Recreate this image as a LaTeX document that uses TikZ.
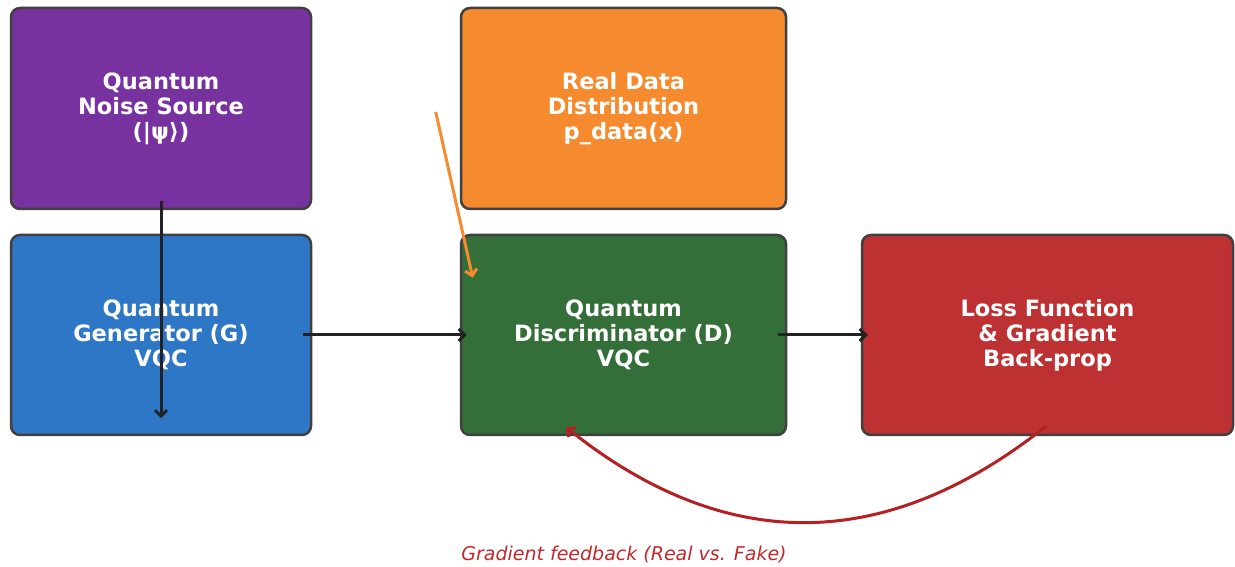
\documentclass[tikz,border=0pt]{standalone}
\usepackage{fontspec}
\setmainfont{DejaVu Sans}
\usetikzlibrary{arrows.meta,calc}
\definecolor{cpurple}{HTML}{7832A0}
\definecolor{corange}{HTML}{F58B2E}
\definecolor{cblue}{HTML}{2E76C6}
\definecolor{cgreen}{HTML}{346E38}
\definecolor{cred}{HTML}{BE3133}
\definecolor{cborder}{HTML}{404040}
\definecolor{carrow}{HTML}{222222}
\definecolor{cfeed}{HTML}{B52025}
\definecolor{clabel}{HTML}{C0282C}
\tikzset{
  box/.style={draw=cborder, line width=2.5pt, rounded corners=9pt, text=white,
    font=\fontsize{22.5}{25}\selectfont\bfseries, align=center, inner sep=0pt},
  flow/.style={line width=3pt, draw=carrow, -{Straight Barb[length=6pt,width=12pt,line width=3pt]}},
}
\begin{document}
\begin{tikzpicture}[x=1pt,y=1pt]
\useasboundingbox (0,0) rectangle (1235,567);
\node[box, fill=cpurple, minimum width=300pt, minimum height=201pt] (noise) at (161,458.5) {Quantum\\Noise Source\\(|ψ⟩)};
\node[box, fill=corange, minimum width=325pt, minimum height=201pt] (real) at (623.5,458.5) {Real Data\\Distribution\\p\_data(x)};
\node[box, fill=cblue, minimum width=300pt, minimum height=200pt] (gen) at (161,232) {Quantum\\Generator (G)\\VQC};
\node[box, fill=cgreen, minimum width=325pt, minimum height=200pt] (disc) at (623.5,232) {Quantum\\Discriminator (D)\\VQC};
\node[box, fill=cred, minimum width=371pt, minimum height=200pt] (loss) at (1047.5,232) {Loss Function\\\& Gradient\\Back-prop};
\draw[flow] ([yshift=9pt]noise.south) -- ([yshift=18pt]gen.south);
\draw[flow] ([xshift=-9pt]gen.east) -- ([xshift=7pt]disc.west);
\draw[flow] ([xshift=-9pt]disc.east) -- ([xshift=7pt]loss.west);
\draw[flow, draw=corange] ([shift={(-24pt,-3.5pt)}]real.west) -- ([shift={(13pt,-44pt)}]disc.north west);
\draw[flow, draw=cfeed] ([shift={(-1.5pt,10pt)}]loss.south) .. controls +(-160pt,-127pt) and +(160pt,-128pt) .. ([shift={(-57.5pt,9pt)}]disc.south);
\node[text=clabel, font=\fontsize{19}{22}\selectfont\itshape] (lbl) at (624,12) {Gradient feedback (Real vs. Fake)};
\end{tikzpicture}
\end{document}
